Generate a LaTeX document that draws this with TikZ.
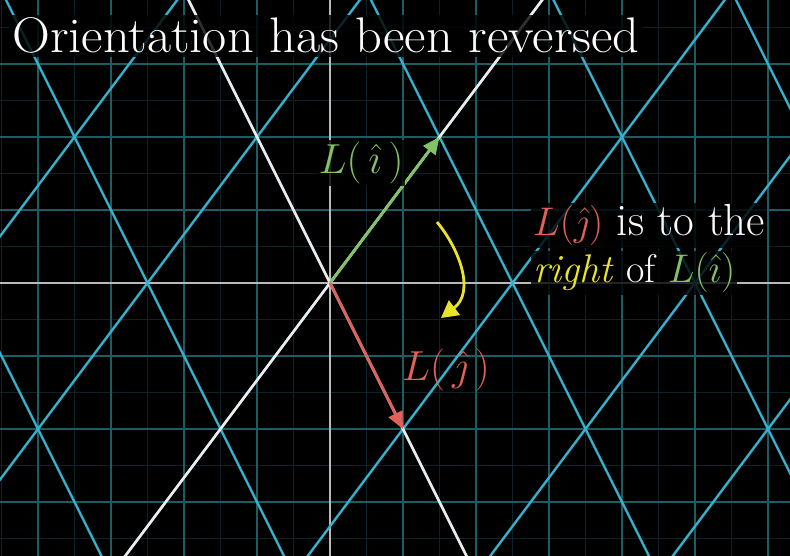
\RequirePackage{fix-cm}
\documentclass[tikz,border=0pt]{standalone}
\usepackage{fontspec}
\usetikzlibrary{arrows.meta}
\definecolor{bgmaj}{RGB}{28,92,98}
\definecolor{bgmin}{RGB}{12,34,38}
\definecolor{tblue}{RGB}{52,178,205}
\definecolor{axisgray}{RGB}{185,185,185}
\definecolor{waxis}{RGB}{236,236,236}
\definecolor{vgreen}{RGB}{131,193,103}
\definecolor{vred}{RGB}{226,96,90}
\definecolor{vyellow}{RGB}{232,228,40}
\tikzset{
  bgmajor/.style={draw=bgmaj, line width=1.6pt},
  bgminor/.style={draw=bgmin, line width=0.8pt},
  tline/.style={draw=tblue, line width=2.4pt},
  taxis/.style={draw=waxis, line width=2.6pt},
  oaxis/.style={draw=axisgray, line width=1.6pt},
  vecarrow/.style={line width=2.8pt, -{Triangle[length=17pt,width=15pt]}},
  bigtext/.style={font=\fontsize{50}{54}\selectfont, text=white, inner sep=3pt},
  lbl/.style={font=\fontsize{42}{48}\selectfont, inner sep=2pt},
  rtext/.style={font=\fontsize{40}{48}\selectfont, inner sep=2pt},
  backed/.style={fill=black, fill opacity=0.8, text opacity=1}
}
\begin{document}
\begin{tikzpicture}[x=73pt,y=73pt]
\fill[black] (-4.5205,-3.7397) rectangle (6.3014,3.8767);
\useasboundingbox (-4.5205,-3.7397) rectangle (6.3014,3.8767);
\clip (-4.5205,-3.7397) rectangle (6.3014,3.8767);
% background grid
\foreach \k in {-5.5,-4.5,...,6.5} { \draw[bgminor] (\k,-4) -- (\k,4); }
\foreach \k in {-4.5,-3.5,...,4.5} { \draw[bgminor] (-5,\k) -- (7,\k); }
\foreach \k in {-5,...,7} { \draw[bgmajor] (\k,-4) -- (\k,4); }
\foreach \k in {-4,...,4} { \draw[bgmajor] (-5,\k) -- (7,\k); }
% original axes
\coordinate (O) at (0,0);
\draw[oaxis] (-5,0) -- (7,0);
\draw[oaxis] (0,-4) -- (0,4);
% transformed grid
\foreach \n in {-5,...,6} {
  \draw[tline] ({\n-12},{-2*(\n)-16}) -- ({\n+12},{-2*(\n)+16});
  \draw[tline] ({1.5*(\n)-8},{2*(\n)+16}) -- ({1.5*(\n)+8},{2*(\n)-16});
}
% transformed axes
\coordinate (ia) at (-12,-16);
\coordinate (ib) at (12,16);
\coordinate (ja) at (-8,16);
\coordinate (jb) at (8,-16);
\draw[taxis] (ia) -- (ib);
\draw[taxis] (ja) -- (jb);
% vectors
\coordinate (Li) at (1.5,2);
\coordinate (Lj) at (1,-2);
\draw[vecarrow, vgreen] (O) -- (Li);
\draw[vecarrow, vred] (O) -- (Lj);
% curved arrow
\coordinate (S) at (1.4658,0.8356);
\coordinate (C1) at (1.7808,0.4521);
\coordinate (C2) at (1.9863,-0.1233);
\coordinate (E) at (1.5205,-0.4795);
\draw[vyellow, line width=2.8pt, -{Triangle[length=17pt,width=18pt]}] (S) .. controls (C1) and (C2) .. (E);
% labels
\node[lbl, backed, text=vgreen] (li) at (0.425,1.644) {$L(\,\hat{\imath}\,)$};
\node[lbl, text=vred] (lj) at (1.589,-1.192) {$L(\,\hat{\jmath}\,)$};
\node[bigtext, backed, anchor=base west] (title) at (-4.397,3.151) {\scalebox{1.05}[1]{Orientation has been reversed}};
\node[rtext, backed, text=white, anchor=base west] (r1) at (2.753,0.644) {\textcolor{vred}{$L(\hat{\jmath})$}\fontsize{45}{48}\selectfont\ is to the};
\node[rtext, backed, text=white, anchor=base west] (r2) at (2.753,0.0) {\textcolor{vyellow}{\textit{right}} of \textcolor{vgreen}{$L(\hat{\imath})$}};
\end{tikzpicture}
\end{document}
